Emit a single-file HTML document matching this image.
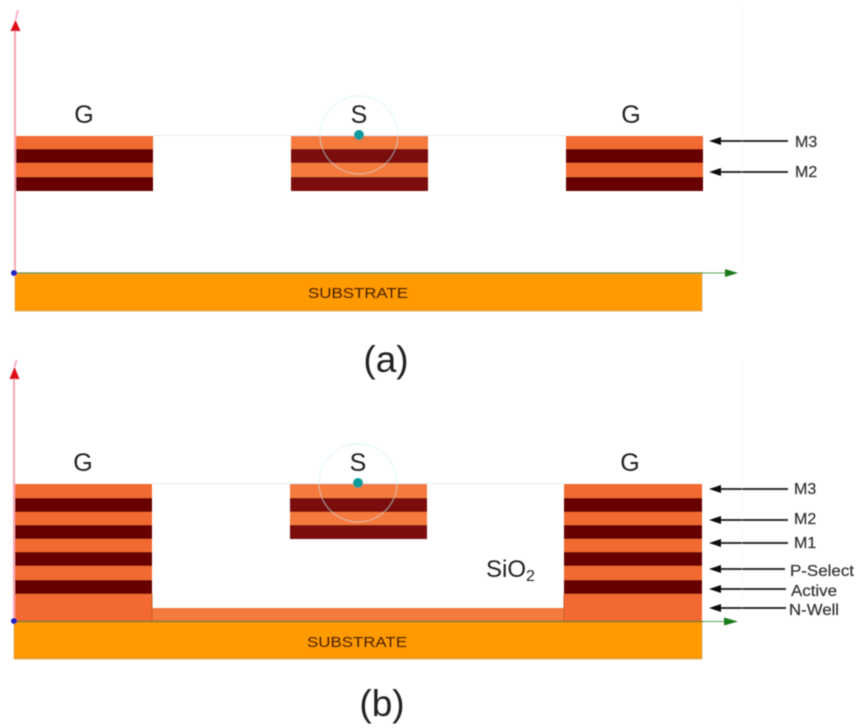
<!DOCTYPE html>
<html>
<head>
<meta charset="utf-8">
<style>
html,body{margin:0;padding:0;background:#fff;}
svg{display:block;font-family:"Liberation Sans",sans-serif;}
</style>
</head>
<body>
<svg width="864" height="728" viewBox="0 0 864 728" xmlns="http://www.w3.org/2000/svg">
<defs>
<filter id="b" x="-5%" y="-5%" width="110%" height="110%"><feGaussianBlur stdDeviation="0.5"/></filter>
</defs>
<rect width="864" height="728" fill="#fff"/>
<g filter="url(#b)">
<line x1="742" y1="8" x2="742" y2="272" stroke="#f8f8f8"/>
<line x1="742" y1="360" x2="742" y2="618" stroke="#f9f9f9"/>

<!-- panel a -->
<line x1="153" y1="135.500" x2="566" y2="135.500" stroke="#e6ecec"/>
<rect x="16" y="136" width="137" height="13" fill="#f26a30"/><rect x="16" y="149" width="137" height="14" fill="#690000"/><rect x="16" y="163" width="137" height="14" fill="#f26a30"/><rect x="16" y="177" width="137" height="14" fill="#690000"/>
<rect x="291" y="136" width="137" height="13" fill="#f47a3c"/><rect x="291" y="149" width="137" height="14" fill="#7c0808"/><rect x="291" y="163" width="137" height="14" fill="#f47a3c"/><rect x="291" y="177" width="137" height="14" fill="#7c0808"/>
<rect x="566" y="136" width="137" height="13" fill="#f26a30"/><rect x="566" y="149" width="137" height="14" fill="#690000"/><rect x="566" y="163" width="137" height="14" fill="#f26a30"/><rect x="566" y="177" width="137" height="14" fill="#690000"/>
<rect x="15" y="274" width="687" height="37" fill="#ff9a00" stroke="#d8a050" stroke-width="0.700"/>
<line x1="15" y1="273" x2="703" y2="273" stroke="#6f8a2a" stroke-width="1.200"/>
<line x1="703" y1="273" x2="728" y2="273" stroke="#5fa55f" stroke-width="0.900"/>
<polygon points="725,269 738,273 725,277" fill="#1a7a1a"/>
<line x1="15" y1="273" x2="15" y2="30" stroke="#f7a8b0" stroke-width="2"/>
<polygon points="10.500,31 20.500,31 15.500,20" fill="#e0101c"/>
<line x1="15.500" y1="20" x2="18" y2="10" stroke="#f4b0c8" stroke-width="2"/>
<circle cx="14" cy="273" r="3" fill="#2222c0"/>
<circle cx="359" cy="135" r="39" fill="none" stroke="#c8ecec" stroke-opacity="0.600" stroke-width="0.900"/>
<circle cx="359" cy="135" r="5" fill="#0e9a9a"/>
<text x="84" y="123" font-size="25" text-anchor="middle" fill="#222">G</text>
<text x="359" y="123" font-size="25" text-anchor="middle" fill="#222">S</text>
<text x="631" y="123" font-size="25" text-anchor="middle" fill="#222">G</text>
<text x="358" y="298" font-size="15" text-anchor="middle" fill="#4a1c00" stroke="#4a1c00" stroke-width="0.300" textLength="100" lengthAdjust="spacingAndGlyphs">SUBSTRATE</text>
<text x="386" y="372" font-size="37" text-anchor="middle" fill="#222">(a)</text>

<!-- arrows a -->
<g stroke="#333" stroke-width="2"><line x1="718" y1="141" x2="788" y2="141"/><line x1="718" y1="172" x2="788" y2="172"/></g>
<g fill="#111"><polygon points="709,141 721,137 721,145"/><polygon points="709,172 721,168 721,176"/></g>
<g font-size="16" fill="#333" stroke="#333" stroke-width="0.200"><text x="795" y="147">M3</text><text x="795" y="177">M2</text></g>

<!-- panel b -->
<line x1="152" y1="483.500" x2="564" y2="483.500" stroke="#e6ecec"/>
<rect x="15" y="484" width="137" height="138" fill="#f26a30"/>
<rect x="15" y="498" width="137" height="14" fill="#690000"/><rect x="15" y="525" width="137" height="14" fill="#690000"/><rect x="15" y="552" width="137" height="14" fill="#690000"/><rect x="15" y="580" width="137" height="14" fill="#690000"/>
<rect x="564" y="484" width="138" height="138" fill="#f26a30"/>
<rect x="564" y="498" width="138" height="14" fill="#690000"/><rect x="564" y="525" width="138" height="14" fill="#690000"/><rect x="564" y="552" width="138" height="14" fill="#690000"/><rect x="564" y="580" width="138" height="14" fill="#690000"/>
<rect x="152" y="608" width="412" height="14" fill="#f47a3c"/>
<line x1="152" y1="594" x2="152" y2="622" stroke="#c85a28"/>
<line x1="564" y1="594" x2="564" y2="622" stroke="#c85a28"/>
<rect x="290" y="484" width="137" height="14" fill="#f47a3c"/><rect x="290" y="498" width="137" height="14" fill="#7c0808"/><rect x="290" y="512" width="137" height="13" fill="#f47a3c"/><rect x="290" y="525" width="137" height="14" fill="#7c0808"/>
<rect x="14" y="622" width="688" height="37" fill="#ff9a00" stroke="#d8a050" stroke-width="0.700"/>
<line x1="14" y1="621.500" x2="703" y2="621.500" stroke="#5f7a1a" stroke-width="1.200"/>
<line x1="703" y1="621.500" x2="728" y2="621.500" stroke="#5fa55f" stroke-width="0.900"/>
<polygon points="724,617.500 738,621.500 724,625.500" fill="#1a7a1a"/>
<line x1="14" y1="621" x2="14" y2="378" stroke="#f7a8b0" stroke-width="2"/>
<polygon points="9.500,379 19.500,379 14.500,367" fill="#e0101c"/>
<line x1="14.500" y1="367" x2="16.500" y2="360" stroke="#f4b0c8" stroke-width="2"/>
<circle cx="14" cy="621" r="3" fill="#2222c0"/>
<circle cx="358" cy="483" r="39" fill="none" stroke="#c8ecec" stroke-opacity="0.600" stroke-width="0.900"/>
<circle cx="358" cy="483" r="5" fill="#0e9a9a"/>
<text x="83" y="471" font-size="25" text-anchor="middle" fill="#222">G</text>
<text x="358" y="471" font-size="25" text-anchor="middle" fill="#222">S</text>
<text x="630" y="471" font-size="25" text-anchor="middle" fill="#222">G</text>
<text x="486" y="577" font-size="24" fill="#222">SiO<tspan font-size="16" dy="4">2</tspan></text>
<text x="357" y="647" font-size="15" text-anchor="middle" fill="#4a1c00" stroke="#4a1c00" stroke-width="0.300" textLength="100" lengthAdjust="spacingAndGlyphs">SUBSTRATE</text>
<text x="382" y="716" font-size="37" text-anchor="middle" fill="#222">(b)</text>

<!-- arrows b -->
<g stroke="#333" stroke-width="2">
<line x1="718" y1="489" x2="788" y2="489"/><line x1="718" y1="520" x2="788" y2="520"/><line x1="718" y1="543" x2="788" y2="543"/><line x1="718" y1="569" x2="785" y2="569"/><line x1="718" y1="589" x2="786" y2="589"/><line x1="718" y1="608" x2="786" y2="608"/>
</g>
<g fill="#111">
<polygon points="709,489 721,485 721,493"/><polygon points="709,520 721,516 721,524"/><polygon points="709,543 721,539 721,547"/><polygon points="709,569 721,565 721,573"/><polygon points="709,589 721,585 721,593"/><polygon points="709,608 721,604 721,612"/>
</g>
<g font-size="16" fill="#333" stroke="#333" stroke-width="0.200">
<text x="794" y="494">M3</text><text x="794" y="524">M2</text><text x="794" y="548">M1</text>
<text x="790" y="576" textLength="64" lengthAdjust="spacingAndGlyphs">P-Select</text><text x="791" y="596" textLength="46" lengthAdjust="spacingAndGlyphs">Active</text><text x="789" y="615" textLength="50" lengthAdjust="spacingAndGlyphs">N-Well</text>
</g>
</g>
</svg>
</body>
</html>
